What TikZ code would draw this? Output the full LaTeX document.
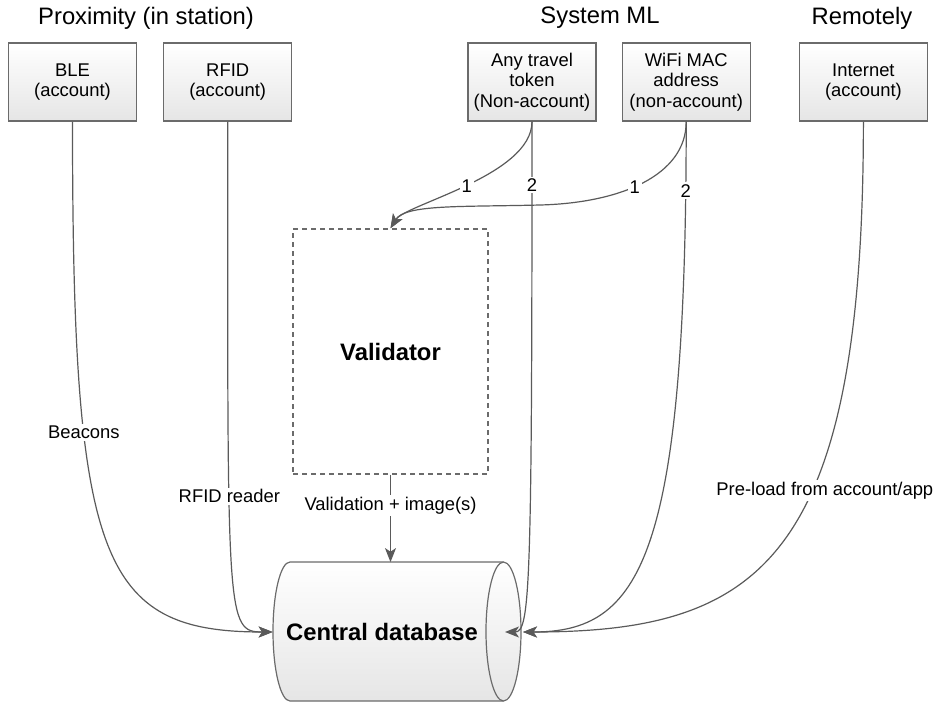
\documentclass[tikz,border=0pt]{standalone}
\usepackage{fontspec}
\setmainfont{Liberation Sans}
\usepackage{tikz}
\usetikzlibrary{positioning}
\usetikzlibrary{arrows.meta}
\usetikzlibrary{shadings}

\definecolor{edgegray}{HTML}{5A5A5A}
\definecolor{boxline}{HTML}{6B6B6B}

\tikzset{
  srcbox/.style={draw=boxline, line width=0.6pt, top color=white, bottom color=black!10,
    minimum width=64pt, minimum height=39pt, inner sep=1pt, align=center,
    font=\fontsize{9.2}{10.3}\selectfont},
  head/.style={font=\fontsize{11.9}{14}\selectfont},
  valbox/.style={draw=boxline, line width=0.75pt, dash pattern=on 2.5pt off 2pt,
    minimum width=97.5pt, minimum height=122.5pt, font=\fontsize{11.9}{14}\selectfont\bfseries},
  link/.style={draw=edgegray, line width=0.6pt,
    -{Stealth[length=7pt, width=5.5pt, inset=1.8pt]}},
  lbl/.style={fill=white, inner sep=1pt, font=\fontsize{9.2}{11}\selectfont}
}

\begin{document}
\begin{tikzpicture}[x=0.5pt, y=-0.5pt]
  \useasboundingbox (0,0) rectangle (938,702);

  % group headings
  \node[head] (prox) at (146,18) {Proximity (in station)};
  \node[head] (sysml) at (600,18) {System ML};
  \node[head] (remote) at (862,18) {Remotely};

  % sources
  \node[srcbox] (ble) at (72.5,82) {BLE\\(account)};
  \node[srcbox, right=13pt of ble] (rfid) {RFID\\(account)};
  \node[srcbox] (tok) at (532,82) {Any travel\\token\\(Non-account)};
  \node[srcbox, right=12.5pt of tok] (wifi) {WiFi MAC\\address\\(non-account)};
  \node[srcbox, right=24pt of wifi] (inet) {Internet\\(account)};

  \node[valbox] (val) at (390.5,351.5) {Validator};

  % database drum
  \path[draw=boxline, line width=0.6pt, top color=white, bottom color=black!10]
    (290,562) -- (503.5,562) arc[start angle=90, end angle=-90, x radius=8.75pt, y radius=34.75pt]
    -- (290,701) arc[start angle=270, end angle=90, x radius=8.5pt, y radius=34.75pt] -- cycle;
  \draw[boxline, line width=0.6pt]
    (503.5,562) arc[start angle=90, end angle=270, x radius=8.75pt, y radius=34.75pt];
  \node[minimum width=109pt, minimum height=69.5pt, font=\fontsize{11.9}{14}\selectfont\bfseries]
    (db) at (382,632) {Central database};
  \coordinate (dbend) at (505,632);
  \coordinate (dbrim) at (523,632);
  \coordinate (bend) at (540,205);

  \draw[link] (ble.south) .. controls +(0,439) and +(-173,0) .. (db.west)
    node[lbl, pos=0.31] {Beacons};
  \draw[link] (rfid.south) .. controls +(0,499) and +(-47,0) .. (db.west)
    node[lbl, pos=0.365] {RFID reader};
  \draw[link] (tok.south) .. controls +(0,54) and +(14.5,-24) .. (val.north)
    node[lbl, pos=0.5] {1};
  \draw[link] (tok.south) .. controls +(0,469) and +(25,0) .. (dbend)
    node[lbl, pos=0.047] {2};
  \draw[link] (wifi.south) .. controls +(0,54) and +(80,-2) .. (bend)
    node[lbl, pos=0.55] {1}
    .. controls +(-80,2) and +(14.5,-24) .. (val.north);
  \draw[link] (wifi.south) .. controls +(0,439) and +(117,0) .. (dbrim)
    node[lbl, pos=0.055] {2};
  \draw[link] (inet.south) .. controls +(0,439) and +(237,0) .. (dbrim)
    node[lbl, pos=0.4, xshift=6.5pt] {Pre-load from account/app};
  \draw[link] (val) -- (val.south |- db.north)
    node[lbl, pos=0.35] {Validation + image(s)};
\end{tikzpicture}
\end{document}
